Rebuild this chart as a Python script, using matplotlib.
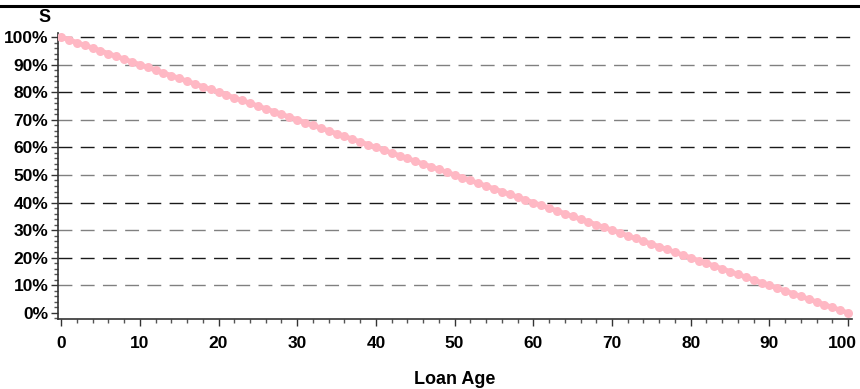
import matplotlib
matplotlib.use("Agg")
import matplotlib.pyplot as plt
from matplotlib.lines import Line2D
from matplotlib.ticker import MultipleLocator, PercentFormatter
from matplotlib.transforms import ScaledTranslation

# ── Data ────────────────────────────────────────────────────────────────────
loan_age = list(range(0, 101))
survival = [
    1.00, 0.99, 0.98, 0.97, 0.96, 0.95, 0.94, 0.93, 0.92, 0.91,
    0.90, 0.89, 0.88, 0.87, 0.86, 0.85, 0.84, 0.83, 0.82, 0.81,
    0.80, 0.79, 0.78, 0.77, 0.76, 0.75, 0.74, 0.73, 0.72, 0.71,
    0.70, 0.69, 0.68, 0.67, 0.66, 0.65, 0.64, 0.63, 0.62, 0.61,
    0.60, 0.59, 0.58, 0.57, 0.56, 0.55, 0.54, 0.53, 0.52, 0.51,
    0.50, 0.49, 0.48, 0.47, 0.46, 0.45, 0.44, 0.43, 0.42, 0.41,
    0.40, 0.39, 0.38, 0.37, 0.36, 0.35, 0.34, 0.33, 0.32, 0.31,
    0.30, 0.29, 0.28, 0.27, 0.26, 0.25, 0.24, 0.23, 0.22, 0.21,
    0.20, 0.19, 0.18, 0.17, 0.16, 0.15, 0.14, 0.13, 0.12, 0.11,
    0.10, 0.09, 0.08, 0.07, 0.06, 0.05, 0.04, 0.03, 0.02, 0.01,
    0.00,
]
x_ticks = [0, 10, 20, 30, 40, 50, 60, 70, 80, 90, 100]
grid_levels = [0.1, 0.2, 0.3, 0.4, 0.5, 0.6, 0.7, 0.8, 0.9, 1.0]

plt.rcParams["font.family"] = ["Liberation Sans", "DejaVu Sans"]
plt.rcParams["font.weight"] = "bold"

W, H = 860, 389
fig = plt.figure(figsize=(W / 100, H / 100), dpi=100)
ax = fig.add_axes([58 / W, 1 - 319 / H, (852 - 58) / W, (319 - 33) / H])

# dashed reference lines (alternating dark / grey as in the reference)
for k, lvl in enumerate(grid_levels):
    col = "#1a1a1a" if k % 2 == 1 else "#808080"
    ax.axhline(lvl, color=col, lw=1.0, dashes=(10, 6), zorder=1)

ax.plot(loan_age, survival, color="#ffb8c4", lw=3.5, marker="o",
        markersize=6.5, markeredgewidth=0, zorder=3)

ax.set_xlim(-0.4, 100.5)
ax.set_ylim(-0.022, 1.0145)

ax.set_xticks(x_ticks)
ax.xaxis.set_minor_locator(MultipleLocator(2))
ax.yaxis.set_major_locator(MultipleLocator(0.1))
ax.yaxis.set_minor_locator(MultipleLocator(0.02))
ax.yaxis.set_major_formatter(PercentFormatter(1.0, decimals=0))

ax.tick_params(axis="both", which="major", length=5, width=1, color="#333333")
ax.tick_params(axis="y", which="major", labelsize=12.5, pad=2)
ax.tick_params(axis="x", which="major", labelsize=12.5, pad=7)
ax.tick_params(axis="both", which="minor", length=3, width=1, color="#555555")

for s in ["top", "right"]:
    ax.spines[s].set_visible(False)
for s in ["left", "bottom"]:
    ax.spines[s].set_linewidth(1.2)
    ax.spines[s].set_color("#333333")

ax.set_xlabel("Loan Age", fontsize=13, fontweight="bold", labelpad=15)
fig.text(45 / W, 1 - 17 / H, "S", fontsize=13, fontweight="bold",
         ha="center", va="center")

# rule across the top of the figure
fig.add_artist(Line2D([0, 1], [1 - 6 / H, 1 - 6 / H], transform=fig.transFigure,
                      color="black", lw=2.2))

# nudge the "100" label so it stays inside the figure edge
fig.canvas.draw()
last = ax.xaxis.get_major_ticks()[len(x_ticks) - 1].label1
last.set_transform(last.get_transform() +
                   ScaledTranslation(-4 / 72, 0, fig.dpi_scale_trans))

fig.savefig("out.png", dpi=100)
